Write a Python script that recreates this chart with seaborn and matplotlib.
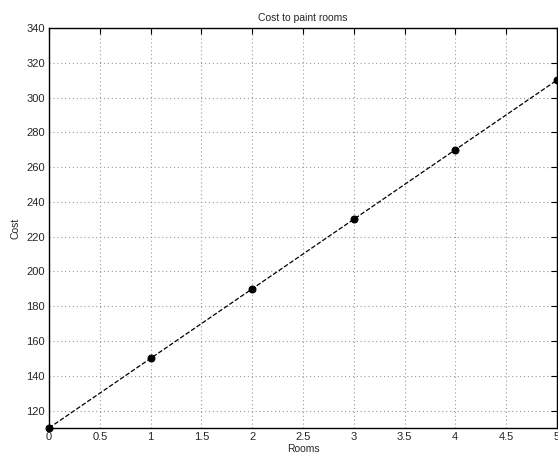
import pandas as pd
import matplotlib.pyplot as plt
import seaborn as sns

rooms = [0, 1, 2, 3, 4, 5]
cost = [110, 150, 190, 230, 270, 310]
x_ticks = [0, 0.5, 1, 1.5, 2, 2.5, 3, 3.5, 4, 4.5, 5]
x_tick_labels = ["0", "0.5", "1", "1.5", "2", "2.5", "3", "3.5", "4", "4.5", "5"]
y_ticks = [120, 140, 160, 180, 200, 220, 240, 260, 280, 300, 320, 340]

df = pd.DataFrame({"Rooms": rooms, "Cost": cost})

sns.set_style("white")
plt.rcParams["font.family"] = ["Liberation Sans", "DejaVu Sans"]

fig = plt.figure(figsize=(5.58, 4.57), dpi=100)
ax = fig.add_axes([0.0878, 0.0635, 0.9102, 0.8752])

sns.lineplot(
    data=df, x="Rooms", y="Cost", ax=ax,
    color="black", linestyle="--", linewidth=0.9,
    marker="o", markersize=5, markeredgecolor="black",
    clip_on=False, zorder=3,
)

ax.set_xlim(0, 5)
ax.set_ylim(110, 340)
ax.set_xticks(x_ticks)
ax.set_xticklabels(x_tick_labels)
ax.set_yticks(y_ticks)

ax.grid(True, linestyle=(0, (1, 2.5)), color="#999999", linewidth=0.8)
ax.tick_params(direction="in", length=4, width=0.8, labelsize=8,
               top=True, right=True, color="black", pad=3)
for s in ax.spines.values():
    s.set_linewidth(1.0)
    s.set_color("black")
    s.set_visible(True)

ax.set_title("Cost to paint rooms", fontsize=7.5, pad=5)
ax.set_xlabel("Rooms", fontsize=7.5, labelpad=1)
ax.set_ylabel("Cost", fontsize=7.5, labelpad=4)

plt.savefig("out.png", dpi=100)
